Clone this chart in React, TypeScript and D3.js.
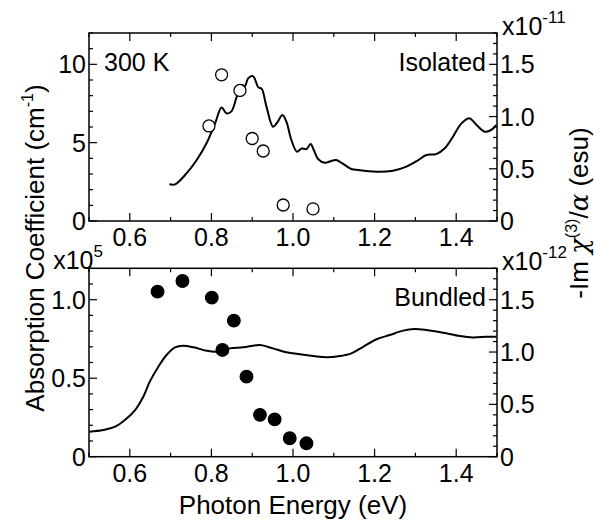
import React from "react";
import * as d3 from "d3";

// ---- data ----
const isoCurveE = [0.697, 0.711, 0.739, 0.764, 0.788, 0.809, 0.825, 0.837, 0.849, 0.862, 0.874, 0.882, 0.890, 0.901, 0.906, 0.915, 0.923, 0.935, 0.951, 0.961, 0.974, 0.984, 0.996, 1.010, 1.021, 1.033, 1.043, 1.051, 1.062, 1.078, 1.094, 1.106, 1.123, 1.143, 1.160, 1.205, 1.245, 1.278, 1.307, 1.327, 1.351, 1.372, 1.392, 1.413, 1.433, 1.450, 1.470, 1.482, 1.499];
const isoCurveA = [2.34, 2.34, 3.04, 3.89, 4.96, 6.23, 7.25, 6.87, 7.0, 7.93, 8.68, 8.6, 9.1, 9.25, 9.1, 8.53, 8.45, 7.3, 6.02, 6.27, 6.76, 6.33, 5.17, 4.42, 4.63, 4.59, 4.91, 4.53, 3.94, 3.72, 3.83, 3.89, 3.64, 3.32, 3.25, 3.15, 3.21, 3.47, 3.89, 4.21, 4.27, 4.64, 5.38, 6.23, 6.55, 6.13, 5.70, 5.76, 6.13];
const isoDotE = [0.794, 0.825, 0.870, 0.900, 0.927, 0.976, 1.049];
const isoDotChi = [0.91, 1.40, 1.25, 0.79, 0.67, 0.153, 0.116];

const bunCurveE = [0.501, 0.535, 0.564, 0.588, 0.613, 0.633, 0.649, 0.670, 0.690, 0.711, 0.731, 0.756, 0.788, 0.813, 0.845, 0.878, 0.919, 0.951, 0.984, 1.017, 1.050, 1.082, 1.115, 1.143, 1.172, 1.205, 1.237, 1.270, 1.298, 1.327, 1.368, 1.409, 1.441, 1.474, 1.499];
const bunCurveA = [0.159, 0.170, 0.191, 0.234, 0.297, 0.382, 0.478, 0.573, 0.648, 0.697, 0.707, 0.697, 0.675, 0.669, 0.690, 0.697, 0.711, 0.690, 0.665, 0.652, 0.641, 0.633, 0.641, 0.658, 0.700, 0.748, 0.775, 0.803, 0.813, 0.807, 0.790, 0.769, 0.760, 0.764, 0.764];
const bunDotE = [0.668, 0.729, 0.801, 0.855, 0.827, 0.886, 0.919, 0.955, 0.992, 1.033];
const bunDotChi = [1.577, 1.679, 1.52, 1.30, 1.02, 0.765, 0.40, 0.357, 0.176, 0.128];

const xMajor = [0.6, 0.8, 1.0, 1.2, 1.4];
const xMinor = [0.5, 0.7, 0.9, 1.1, 1.3, 1.5];
const topLeftMajor = [0, 5, 10];
const botLeftMajor = [0, 0.5, 1.0];
const rightMajor = [0, 0.5, 1.0, 1.5];

const FONT = "'Liberation Sans', Arial, Helvetica, sans-serif";
const FS = 25;
const W = 594, H = 521;
const X0 = 89, X1 = 497;
const MAJ = 8, MIN = 4;

const x = d3.scaleLinear().domain([0.5, 1.5]).range([X0, X1]);

function Panel({ top, bottom, leftMax, leftMinorStep, leftMajor, leftFmt, curveE, curveA, dotE, dotChi, filled, name, mult, leftMult }: any) {
  const yL = d3.scaleLinear().domain([0, leftMax]).range([bottom, top]);
  const yR = d3.scaleLinear().domain([0, 1.8]).range([bottom, top]);
  const line = d3.line<number>().x((d, i) => x(curveE[i])).y((d) => yL(d)).curve(d3.curveCatmullRom);
  const leftMinor = d3.range(0, leftMax + 1e-9, leftMinorStep).filter((v) => !leftMajor.some((m: number) => Math.abs(m - v) < 1e-9));
  const rightMinor = d3.range(0, 1.8 + 1e-9, 0.1).filter((v) => !rightMajor.some((m) => Math.abs(m - v) < 1e-9));
  const fmtR = (v: number) => (v === 0 ? "0" : v.toFixed(1));
  return (
    <g>
      <path d={line(curveA) || ""} fill="none" stroke="#000" strokeWidth={2} />
      {dotE.map((e: number, i: number) => (
        <circle key={i} cx={x(e)} cy={yR(dotChi[i])} r={filled ? 6.3 : 6} fill={filled ? "#000" : "#fff"} stroke="#000" strokeWidth={1.3} />
      ))}
      <rect x={X0} y={top} width={X1 - X0} height={bottom - top} fill="none" stroke="#000" strokeWidth={1.5} />
      {xMajor.map((v) => (
        <g key={"xm" + v}>
          <line x1={x(v)} x2={x(v)} y1={bottom} y2={bottom - MAJ} stroke="#000" strokeWidth={1.2} />
          <line x1={x(v)} x2={x(v)} y1={top} y2={top + MAJ} stroke="#000" strokeWidth={1.2} />
          <text x={x(v)} y={bottom + 25} textAnchor="middle" fontSize={FS} fontFamily={FONT}>{v.toFixed(1)}</text>
        </g>
      ))}
      {xMinor.map((v) => (
        <g key={"xn" + v}>
          <line x1={x(v)} x2={x(v)} y1={bottom} y2={bottom - MIN} stroke="#000" strokeWidth={1.2} />
          <line x1={x(v)} x2={x(v)} y1={top} y2={top + MIN} stroke="#000" strokeWidth={1.2} />
        </g>
      ))}
      {leftMajor.map((v: number) => (
        <g key={"lm" + v}>
          <line x1={X0} x2={X0 + MAJ} y1={yL(v)} y2={yL(v)} stroke="#000" strokeWidth={1.2} />
          <text x={X0 - 3} y={yL(v) + 9} textAnchor="end" fontSize={FS} fontFamily={FONT}>{leftFmt(v)}</text>
        </g>
      ))}
      {leftMinor.map((v: number) => (
        <line key={"ln" + v} x1={X0} x2={X0 + MIN} y1={yL(v)} y2={yL(v)} stroke="#000" strokeWidth={1.2} />
      ))}
      {rightMajor.map((v) => (
        <g key={"rm" + v}>
          <line x1={X1} x2={X1 - MAJ} y1={yR(v)} y2={yR(v)} stroke="#000" strokeWidth={1.2} />
          <text x={X1 + 3} y={yR(v) + 9} textAnchor="start" fontSize={FS} fontFamily={FONT}>{fmtR(v)}</text>
        </g>
      ))}
      {rightMinor.map((v) => (
        <line key={"rn" + v} x1={X1} x2={X1 - MIN} y1={yR(v)} y2={yR(v)} stroke="#000" strokeWidth={1.2} />
      ))}
      <text x={486} y={top + 38} textAnchor="end" fontSize={FS} fontFamily={FONT}>{name}</text>
      <text x={502} y={top + 2} fontSize={FS} fontFamily={FONT}>x10<tspan dy={-12} fontSize={17}>{mult}</tspan></text>
      {leftMult ? (
        <text x={103} y={top + 1} textAnchor="end" fontSize={FS} fontFamily={FONT}>x10<tspan dy={-12} fontSize={17}>{leftMult}</tspan></text>
      ) : null}
    </g>
  );
}

export default function App() {
  return (
    <svg width={W} height={H} style={{ display: "block", position: "absolute", left: 0, top: 0 }}>
      <rect width={W} height={H} fill="#fff" />
      <Panel top={33} bottom={221} leftMax={12} leftMinorStep={1} leftMajor={topLeftMajor} leftFmt={(v: number) => String(v)}
        curveE={isoCurveE} curveA={isoCurveA} dotE={isoDotE} dotChi={isoDotChi} filled={false} name="Isolated" mult="-11" />
      <Panel top={268.3} bottom={456.7} leftMax={1.2} leftMinorStep={0.1} leftMajor={botLeftMajor} leftFmt={(v: number) => (v === 0 ? "0" : v.toFixed(1))}
        curveE={bunCurveE} curveA={bunCurveA} dotE={bunDotE} dotChi={bunDotChi} filled={true} name="Bundled" mult="-12" leftMult="5" />
      <text x={104} y={71} fontSize={FS} fontFamily={FONT}>300 K</text>
      <text x={(X0 + X1) / 2} y={514} textAnchor="middle" fontSize={26} fontFamily={FONT}>Photon Energy (eV)</text>
      <text transform="translate(44,248) rotate(-90)" textAnchor="middle" fontSize={26} fontFamily={FONT}>
        Absorption Coefficient (cm<tspan dy={-11} fontSize={16}>-1</tspan><tspan dy={11}>)</tspan>
      </text>
      <text transform="translate(588,213) rotate(-90)" textAnchor="middle" fontSize={26} fontFamily={FONT}>
        -Im <tspan fontFamily="'DejaVu Serif', serif" fontStyle="italic">χ</tspan><tspan dy={-11} fontSize={16}>(3)</tspan><tspan dy={11}>/</tspan><tspan fontFamily="'DejaVu Serif', serif" fontStyle="italic">α</tspan> (esu)
      </text>
    </svg>
  );
}
